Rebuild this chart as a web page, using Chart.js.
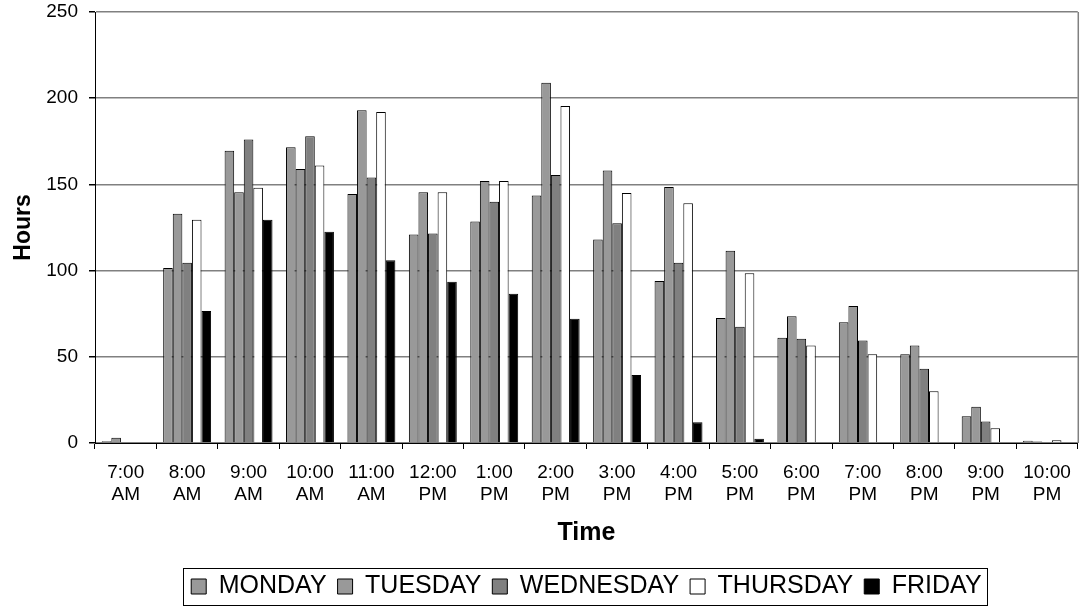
<!DOCTYPE html>
<html>
<head>
<meta charset="utf-8">
<script src="https://cdn.jsdelivr.net/npm/chart.js@4/dist/chart.umd.min.js"></script>
<style>
  html, body { margin: 0; padding: 0; background: #fff; }
  #wrap { width: 1083px; height: 609px; }
</style>
</head>
<body>
<div id="wrap"><canvas id="c" width="1083" height="609"></canvas></div>
<script>
// Hours logged per hour of the day, one series per weekday
const timeLabels = [
  ['7:00', 'AM'], ['8:00', 'AM'], ['9:00', 'AM'], ['10:00', 'AM'], ['11:00', 'AM'],
  ['12:00', 'PM'], ['1:00', 'PM'], ['2:00', 'PM'], ['3:00', 'PM'], ['4:00', 'PM'],
  ['5:00', 'PM'], ['6:00', 'PM'], ['7:00', 'PM'], ['8:00', 'PM'], ['9:00', 'PM'], ['10:00', 'PM']
];
const monday    = [1, 101.5, 169.5, 171.5, 144.5, 121, 128.5, 143.5, 118, 94, 72.5, 61, 70, 51.5, 15.5, 1.3];
const tuesday   = [3, 133, 145.5, 159, 193, 145.5, 152, 209, 158, 148.5, 111.5, 73.5, 79.5, 56.5, 21, 0.8];
const wednesday = [0, 104.5, 176, 178, 154, 121.5, 140, 155.5, 127.5, 104.5, 67.5, 60.5, 59.5, 43, 12.5, 0];
const thursday  = [0, 129.5, 148, 161, 192, 145.5, 152, 195.5, 145, 139, 98.5, 56.5, 51.5, 30, 8.5, 1.6];
const friday    = [0, 76.5, 129.5, 122.5, 106, 93.5, 86.5, 72, 39.5, 12, 2.5, 0, 0, 0, 0, 0];
const yTicks    = [0, 50, 100, 150, 200, 250];

const FONT = "'Liberation Sans', Arial, Helvetica, sans-serif";

function series(label, data, fill) {
  return {
    label: label,
    data: data,
    backgroundColor: fill,
    borderColor: '#000000',
    borderWidth: 1,
    borderSkipped: 'bottom',
    categoryPercentage: 0.78,
    barPercentage: 1.0
  };
}

// Frame on the right of the plot area and a box around the legend
const framePlugin = {
  id: 'frame',
  afterDraw(chart) {
    const ctx = chart.ctx;
    const a = chart.chartArea;
    ctx.save();
    ctx.strokeStyle = '#808080';
    ctx.lineWidth = 1.5;
    ctx.beginPath();
    ctx.moveTo(a.right + 0.5, a.top);
    ctx.lineTo(a.right + 0.5, a.bottom);
    ctx.stroke();

    const boxes = chart.legend.legendHitBoxes;
    if (boxes && boxes.length) {
      let l = Infinity, r = -Infinity, t = Infinity, b = -Infinity;
      boxes.forEach(h => {
        l = Math.min(l, h.left); r = Math.max(r, h.left + h.width);
        t = Math.min(t, h.top);  b = Math.max(b, h.top + h.height);
      });
      ctx.strokeStyle = '#000000';
      ctx.lineWidth = 1;
      ctx.strokeRect(Math.round(l - 8) + 0.5, Math.round(t - 6) + 0.5,
                     Math.round(r - l + 14), Math.round(b - t + 12));
    }
    ctx.restore();
  }
};

new Chart(document.getElementById('c'), {
  type: 'bar',
  data: {
    labels: timeLabels,
    datasets: [
      series('MONDAY', monday, '#999999'),
      series('TUESDAY', tuesday, '#999999'),
      series('WEDNESDAY', wednesday, '#808080'),
      series('THURSDAY', thursday, '#ffffff'),
      series('FRIDAY', friday, '#000000')
    ]
  },
  options: {
    responsive: false,
    animation: false,
    layout: { padding: { top: 12, right: 5, left: 0, bottom: 0 } },
    plugins: {
      tooltip: { enabled: false },
      legend: {
        position: 'bottom',
        fullSize: false,
        labels: {
          color: '#000000',
          font: { family: FONT, size: 25 },
          boxWidth: 15,
          boxHeight: 15,
          padding: 11,
          generateLabels(chart) {
            return chart.data.datasets.map((ds, i) => ({
              text: ds.label,
              fillStyle: ds.backgroundColor,
              strokeStyle: '#000000',
              lineWidth: 1,
              hidden: false,
              datasetIndex: i,
              fontColor: '#000000'
            }));
          }
        }
      }
    },
    scales: {
      x: {
        afterFit(scale) { scale.height = 120; },
        grid: {
          offset: true,
          drawOnChartArea: false,
          drawTicks: true,
          tickLength: 6,
          tickColor: '#000000'
        },
        border: { color: '#000000', width: 1 },
        ticks: {
          color: '#000000',
          font: { family: FONT, size: 19, lineHeight: 1.2 },
          maxRotation: 0,
          autoSkip: false,
          padding: 12
        },
        title: {
          display: true,
          text: 'Time',
          color: '#000000',
          font: { family: FONT, size: 25, weight: 'bold' },
          padding: { top: 4, bottom: 15 }
        }
      },
      y: {
        min: 0,
        max: 250,
        afterFit(scale) {
          scale.width = 95;
          scale.paddingTop = 0;
          scale.paddingBottom = 0;
        },
        afterBuildTicks(scale) { scale.ticks = yTicks.map(v => ({ value: v })); },
        grid: {
          color: '#808080',
          lineWidth: 1.5,
          tickLength: 6,
          tickColor: '#000000'
        },
        border: { color: '#000000', width: 1 },
        ticks: {
          color: '#000000',
          font: { family: FONT, size: 19 },
          padding: 11
        },
        title: {
          display: true,
          text: 'Hours',
          color: '#000000',
          font: { family: FONT, size: 23, weight: 'bold' },
          padding: { top: 10, bottom: 0 }
        }
      }
    }
  },
  plugins: [framePlugin]
});
</script>
</body>
</html>
